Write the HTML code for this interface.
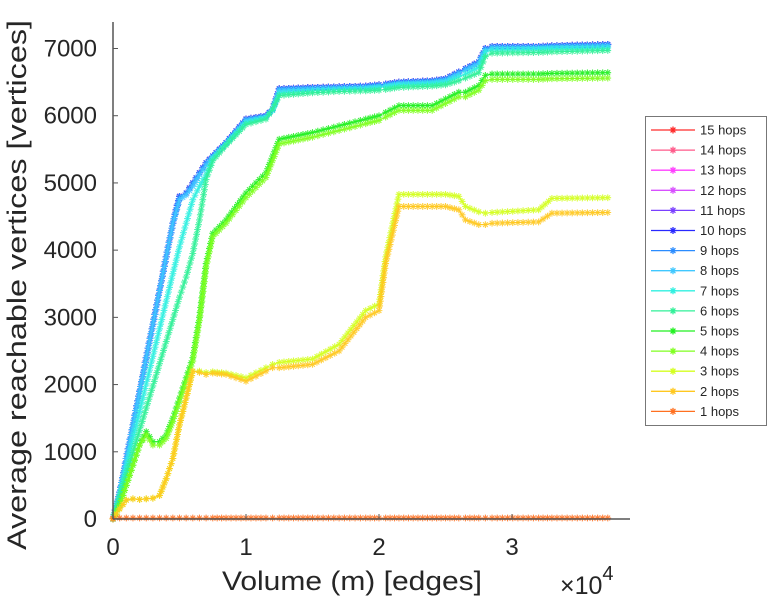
<!DOCTYPE html>
<html><head><meta charset="utf-8"><style>
body{margin:0;background:#fff;width:768px;height:600px;overflow:hidden}
svg text{font-family:"Liberation Sans",sans-serif;fill:#262626}
</style></head><body>
<svg id="chart" width="768" height="600" viewBox="0 0 768 600">
<g id="plot"></g>
<g id="axes"></g>
<g id="legend"></g>
</svg>
<script>
const xValues=[0,500,1000,1500,2000,2500,3000,3500,4000,4500,5000,5500,6000,6500,7000,7500,8500,10000,11500,12000,12500,15000,17000,19000,20000,20500,21500,24000,25000,26000,26500,27500,28000,28500,32000,33000,37200];
const hops1=[10,15,15,15,15,15,15,15,15,15,15,15,15,15,15,15,15,15,15,15,15,15,15,15,15,15,15,15,15,15,15,15,15,15,15,15,15];
const hops2=[0,150,280,300,290,300,310,350,600,900,1400,1800,2200,2180,2150,2170,2150,2050,2200,2250,2250,2300,2500,3000,3100,3800,4650,4650,4650,4600,4450,4380,4380,4400,4420,4550,4560];
const hops3=[0,150,280,300,290,300,310,350,600,900,1400,1800,2200,2200,2180,2190,2170,2100,2250,2300,2330,2380,2600,3100,3200,3900,4830,4830,4830,4800,4650,4570,4550,4560,4600,4770,4780];
const hops4=[0,200,500,800,1100,1250,1100,1100,1200,1450,1750,2050,2350,2950,3750,4200,4400,4780,5080,5330,5580,5680,5780,5880,5930,5980,6080,6080,6180,6280,6280,6380,6520,6540,6540,6550,6560];
const hops5=[0,200,500,800,1100,1300,1150,1150,1250,1500,1800,2100,2400,3000,3800,4250,4450,4850,5150,5400,5650,5750,5850,5950,6000,6050,6150,6150,6250,6350,6350,6450,6600,6620,6620,6630,6640];
const hops6=[0,330,660,990,1320,1650,1980,2310,2640,2970,3300,3600,3950,4450,5050,5330,5560,5870,5950,6100,6300,6340,6360,6370,6380,6390,6420,6440,6460,6520,6560,6640,6880,6930,6940,6950,6970];
const hops7=[0,370,780,1190,1600,2010,2420,2830,3240,3650,4050,4400,4750,4950,5120,5370,5580,5900,5980,6080,6340,6370,6390,6400,6420,6430,6460,6480,6500,6580,6620,6720,6950,6980,6990,7000,7010];
const hops8=[0,400,900,1400,1900,2400,2900,3400,3900,4400,4750,4820,4950,5120,5270,5380,5580,5930,5980,6080,6380,6400,6410,6420,6440,6450,6480,6500,6530,6630,6680,6780,6980,7010,7010,7020,7040];
const hopsHigh=[0,400,900,1400,1900,2400,2900,3400,3900,4400,4800,4850,5000,5150,5300,5400,5600,5950,6000,6100,6400,6420,6430,6440,6460,6470,6500,6520,6550,6650,6700,6800,7000,7030,7030,7040,7060];
const seriesNames=["15 hops","14 hops","13 hops","12 hops","11 hops","10 hops","9 hops","8 hops","7 hops","6 hops","5 hops","4 hops","3 hops","2 hops","1 hops"];
const seriesValues=[hopsHigh,hopsHigh,hopsHigh,hopsHigh,hopsHigh,hopsHigh,hopsHigh,hops8,hops7,hops6,hops5,hops4,hops3,hops2,hops1];
const colors=["#ff2a2a","#ff5a8a","#ff40ff","#d850ff","#7a40ff","#2828ff","#2a8cff","#40c8ff","#30f0e0","#30f098","#20f020","#80ff20","#d4ff20","#ffc820","#ff7020"];
const xTicks=[0,10000,20000,30000];const xTickLabels=["0","1","2","3"];
const yTicks=[0,1000,2000,3000,4000,5000,6000,7000];const yTickLabels=["0","1000","2000","3000","4000","5000","6000","7000"];

const X0=113,X1=630,Y0=519,YT=22;
const sx=v=>X0+v*(399/30000);
const sy=v=>Y0-v*(470.5/7000);
const NS="http://www.w3.org/2000/svg";
function mk(t,a,p){const e=document.createElementNS(NS,t);for(const k in a)e.setAttribute(k,a[k]);p.appendChild(e);return e;}
const plot=document.getElementById('plot'),axes=document.getElementById('axes'),legend=document.getElementById('legend');
function star(x,y,r){return `M${x-r},${y}H${x+r}M${x},${y-r}V${y+r}M${x-r*.7},${y-r*.7}L${x+r*.7},${y+r*.7}M${x-r*.7},${y+r*.7}L${x+r*.7},${y-r*.7}`;}
seriesValues.forEach((vals,i)=>{
  const pts=xValues.map((x,j)=>[sx(x),sy(vals[j])]);
  const line=mk('polyline',{points:pts.map(p=>p.join(',')).join(' '),fill:'none',stroke:colors[i],'stroke-width':1},plot);
  
  
  let d='';
  for(let j=0;j<pts.length-1;j++){const [ax,ay]=pts[j],[bx,by]=pts[j+1];const L=Math.hypot(bx-ax,by-ay);const n=Math.max(1,Math.round(L/5));for(let k=0;k<n;k++){const t=k/n;d+=star(ax+(bx-ax)*t,ay+(by-ay)*t,3.4);}}
  const last=pts[pts.length-1];d+=star(last[0],last[1],3.4);
  const m=mk('path',{d:d,stroke:colors[i],'stroke-width':1.1,fill:'none',opacity:0.85},plot);
  
  
});
const ya=mk('line',{x1:X0,y1:YT,x2:X0,y2:Y0,stroke:'#555','stroke-width':1.5},axes);

const xa=mk('line',{x1:X0,y1:Y0,x2:X1,y2:Y0,stroke:'#555','stroke-width':1.5},axes);

yTicks.forEach((v,i)=>{mk('line',{x1:X0,y1:sy(v),x2:X0+5,y2:sy(v),stroke:'#555'},axes);
  const t=mk('text',{x:X0-16,y:sy(v)+8,'text-anchor':'end','font-size':24},axes);t.textContent=yTickLabels[i];
  });
xTicks.forEach((v,i)=>{mk('line',{x1:sx(v),y1:Y0,x2:sx(v),y2:Y0-5,stroke:'#555'},axes);
  const t=mk('text',{x:sx(v),y:Y0+36,'text-anchor':'middle','font-size':24},axes);t.textContent=xTickLabels[i];
  });
const xl=mk('text',{x:222,y:590,'font-size':27,textLength:260,lengthAdjust:'spacingAndGlyphs'},axes);xl.textContent='Volume (m) [edges]';

const ex=mk('text',{x:560,y:594,'font-size':25},axes);ex.innerHTML='×10<tspan dy="-14" font-size="20">4</tspan>';

const yl=mk('text',{x:0,y:0,'font-size':27,textLength:530,lengthAdjust:'spacingAndGlyphs',transform:'translate(26,550) rotate(-90)'},axes);yl.textContent='Average reachable vertices [vertices]';

const box=mk('rect',{x:645.5,y:116.5,width:121,height:309,fill:'#fff',stroke:'#777','stroke-width':1},legend);

seriesNames.forEach((n,i)=>{const y=130+i*20.1;
  const g=mk('g',{},legend);
  
  
  mk('line',{x1:651,y1:y,x2:695,y2:y,stroke:colors[i],'stroke-width':1.3},g);
  mk('path',{d:star(673,y,3.5),stroke:colors[i],'stroke-width':1.3},g);
  const t=mk('text',{x:700,y:y+4.5,'font-size':13},g);t.textContent=n;});
</script>
</body></html>
